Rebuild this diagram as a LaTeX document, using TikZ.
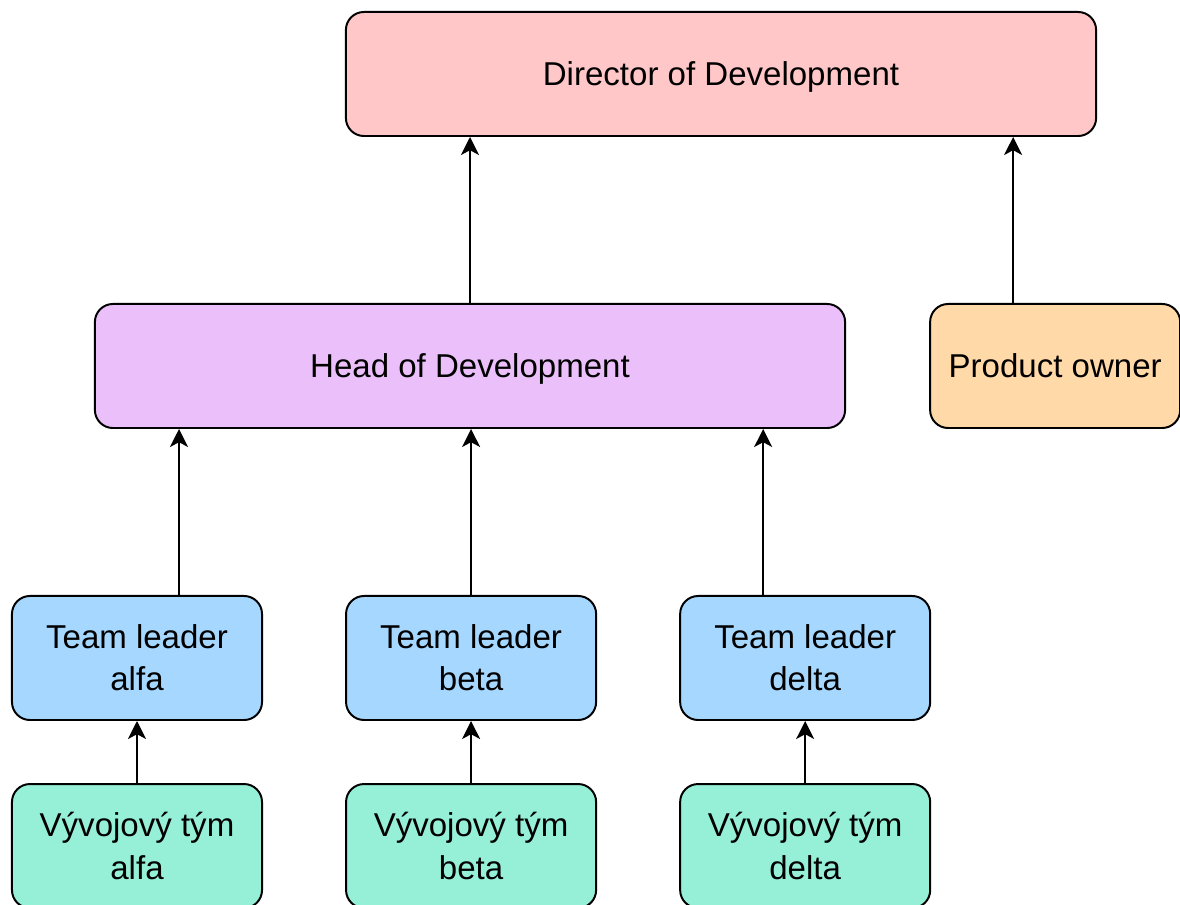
\documentclass[tikz,border=0pt]{standalone}
\usepackage{fontspec}
\setmainfont{Liberation Sans}
\usetikzlibrary{arrows.meta}
\definecolor{dirpink}{RGB}{255,199,199}
\definecolor{headlila}{RGB}{235,192,250}
\definecolor{poorange}{RGB}{255,217,168}
\definecolor{tlblue}{RGB}{166,216,255}
\definecolor{teamgreen}{RGB}{150,240,216}
\tikzstyle{box} = [rectangle, rounded corners=0.45cm, minimum height=3.1cm, align=center, draw=black, line width=1.4pt, font=\fontsize{23.5}{30}\selectfont]
\tikzstyle{small} = [box, minimum width=6.25cm]
\tikzstyle{wide} = [box, minimum width=18.75cm, text height=0.7cm, text depth=0.11cm]
\tikzstyle{arrow} = [line width=1.4pt, -{Stealth[length=0.45cm, width=0.45cm, inset=0.12cm]}]
\begin{document}
\begin{tikzpicture}[x=0.025cm, y=-0.025cm]
\useasboundingbox (0,0) rectangle (1180,905);

%% NODES

\node (dir) [wide, fill=dirpink] at (721,74) {Director of Development};
\node (head) [wide, fill=headlila] at (470,366) {Head of Development};
\node (po) [small, fill=poorange, right of=head, node distance=14.625cm] {Product owner};
\node (tla) [small, fill=tlblue] at (137,658) {Team leader\\alfa};
\node (tlb) [small, fill=tlblue, right of=tla, node distance=8.35cm] {Team leader\\beta};
\node (tld) [small, fill=tlblue, right of=tlb, node distance=8.35cm] {Team leader\\delta};
\node (va) [small, fill=teamgreen, below of=tla, node distance=4.7cm] {Vývojový tým\\alfa};
\node (vb) [small, fill=teamgreen, below of=tlb, node distance=4.7cm] {Vývojový tým\\beta};
\node (vd) [small, fill=teamgreen, below of=tld, node distance=4.7cm] {Vývojový tým\\delta};

%% ARROWS

\draw [arrow] (head.north) -- (head.north |- dir.south);
\draw [arrow] ([xshift=-1.05cm]po.north) -- ([xshift=-1.05cm]po.north |- dir.south);
\draw [arrow] ([xshift=1.05cm]tla.north) -- ([xshift=1.05cm]tla.north |- head.south);
\draw [arrow] (tlb.north) -- (tlb.north |- head.south);
\draw [arrow] ([xshift=-1.05cm]tld.north) -- ([xshift=-1.05cm]tld.north |- head.south);
\draw [arrow] (va) -- (tla);
\draw [arrow] (vb) -- (tlb);
\draw [arrow] (vd) -- (tld);
\end{tikzpicture}
\end{document}
